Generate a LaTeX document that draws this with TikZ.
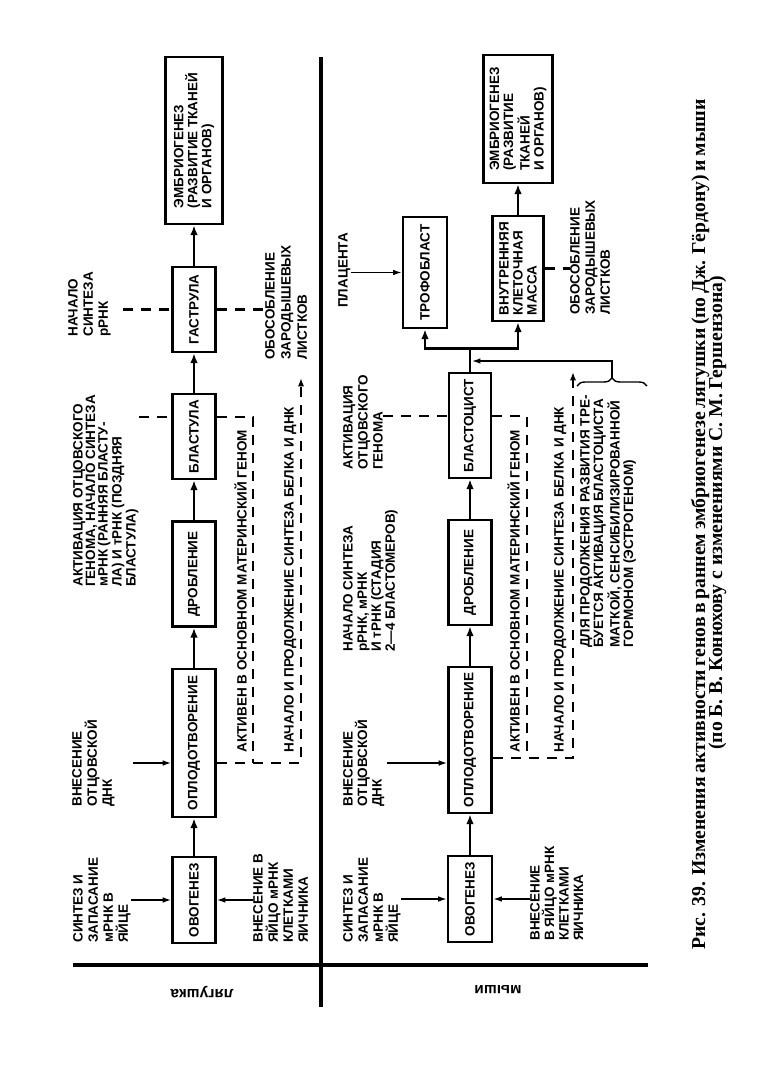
\documentclass[tikz,border=0pt]{standalone}
\usepackage{fontspec}
\setmainfont{Liberation Serif}
\setsansfont{Liberation Sans}
\usetikzlibrary{arrows.meta,decorations.pathreplacing}

\begin{document}
\begin{tikzpicture}[x=0.025cm,y=-0.025cm,>={Latex[length=7pt,width=5.5pt]}]
        \tikzstyle{block} = [rectangle, draw, line width=1.9pt, rotate=90, inner sep=2pt, align=left, font=\sffamily\bfseries\fontsize{9.6}{10}\selectfont]
        \tikzset{note/.style={rotate=90, anchor=north west, inner sep=0pt, align=left, font=\sffamily\bfseries\fontsize{9.6}{#1}\selectfont}, note/.default=10.7pt}
        \tikzstyle{arrow} = [->, line width=2pt]
        \tikzstyle{thinarrow} = [-{Latex[length=6pt,width=4pt]}, line width=1pt]
        \tikzstyle{dashline} = [line width=1.5pt, dash pattern=on 0.25cm off 0.2cm]

        \useasboundingbox (0,0) rectangle (756,1078);

        % Frog row
        \node[block, minimum width=2.15cm, minimum height=1.075cm] (ovo) at (194,900) {ОВОГЕНЕЗ};
        \node[block, minimum width=3.7cm, minimum height=1.075cm] (opl) at (194,743) {ОПЛОДОТВОРЕНИЕ};
        \node[block, minimum width=2.625cm, minimum height=1.075cm] (drob) at (194,574) {ДРОБЛЕНИЕ};
        \node[block, minimum width=2.125cm, minimum height=1.075cm] (blas) at (194,436.5) {БЛАСТУЛА};
        \node[block, minimum width=2.125cm, minimum height=1.075cm] (gast) at (194,309.5) {ГАСТРУЛА};
        \node[block, minimum width=4.175cm, minimum height=1.425cm] (embr) at (194,140.5) {ЭМБРИОГЕНЕЗ\\(РАЗВИТИЕ ТКАНЕЙ\\И ОРГАНОВ)};

        % Frog labels
        \node[note] (ovoL) at (73,943) {СИНТЕЗ И\\ЗАПАСАНИЕ\\мРНК В\\ЯЙЦЕ};
        \node[note] (ovoR) at (253,943) {ВНЕСЕНИЕ В\\ЯЙЦО мРНК\\КЛЕТКАМИ\\ЯИЧНИКА};
        \node[note] (oplL) at (72,807) {ВНЕСЕНИЕ\\ОТЦОВСКОЙ\\ДНК};
        \node[note=8.9pt] (blasL) at (73,587) {АКТИВАЦИЯ ОТЦОВСКОГО\\ГЕНОМА, НАЧАЛО СИНТЕЗА\\мРНК (РАННЯЯ БЛАСТУ-\\ЛА) И тРНК (ПОЗДНЯЯ\\БЛАСТУЛА)};
        \node[note] (gastL) at (68,337) {НАЧАЛО\\СИНТЕЗА\\рРНК};
        \node[note=11.4pt] (gastR) at (265,360) {ОБОСОБЛЕНИЕ\\ЗАРОДЫШЕВЫХ\\ЛИСТКОВ};
        \node[note] (activeF) at (234,753) {АКТИВЕН В ОСНОВНОМ МАТЕРИНСКИЙ ГЕНОМ};
        \node[note] (synthF) at (284,753) {НАЧАЛО И ПРОДОЛЖЕНИЕ СИНТЕЗА БЕЛКА И ДНК};

        % Mouse row
        \node[block, minimum width=2.15cm, minimum height=1.1cm] (ovo2) at (470,899) {ОВОГЕНЕЗ};
        \node[block, minimum width=3.65cm, minimum height=1.075cm] (opl2) at (470,740) {ОПЛОДОТВОРЕНИЕ};
        \node[block, minimum width=2.625cm, minimum height=1.075cm] (drob2) at (470,572.5) {ДРОБЛЕНИЕ};
        \node[block, minimum width=2.625cm, minimum height=1.05cm] (blast) at (470,425.5) {БЛАСТОЦИСТ};

        % Branch nodes
        \node[block, minimum width=2.775cm, minimum height=1.1cm] (troph) at (425,272.5) {ТРОФОБЛАСТ};
        \node[block, minimum width=2.625cm, minimum height=1.275cm] (vkm) at (518,268.5) {ВНУТРЕННЯЯ\\КЛЕТОЧНАЯ\\МАССА};
        \node[block, minimum width=3.2cm, minimum height=1.725cm] (embr2) at (518,119) {ЭМБРИОГЕНЕЗ\\(РАЗВИТИЕ\\ТКАНЕЙ\\И ОРГАНОВ)};

        % Mouse labels
        \node[note] (ovoL2) at (343,943) {СИНТЕЗ И\\ЗАПАСАНИЕ\\мРНК В\\ЯЙЦЕ};
        \node[note=10.3pt] (ovoR2) at (530,941) {ВНЕСЕНИЕ\\В ЯЙЦО мРНК\\КЛЕТКАМИ\\ЯИЧНИКА};
        \node[note=10.3pt] (oplL2) at (343,807) {ВНЕСЕНИЕ\\ОТЦОВСКОЙ\\ДНК};
        \node[note=10pt] (drobL2) at (343,652) {НАЧАЛО СИНТЕЗА\\рРНК, мРНК\\И тРНК (СТАДИЯ\\2—4 БЛАСТОМЕРОВ)};
        \node[note] (blastL2) at (343,470) {АКТИВАЦИЯ\\ОТЦОВСКОГО\\ГЕНОМА};
        \node[note] (placL) at (338,308) {ПЛАЦЕНТА};
        \node[note] (gastR2) at (570,315) {ОБОСОБЛЕНИЕ\\ЗАРОДЫШЕВЫХ\\ЛИСТКОВ};
        \node[note] (activeM) at (507,753) {АКТИВЕН В ОСНОВНОМ МАТЕРИНСКИЙ ГЕНОМ};
        \node[note] (synthM) at (554,753) {НАЧАЛО И ПРОДОЛЖЕНИЕ СИНТЕЗА БЕЛКА И ДНК};
        \node[note=9.6pt] (noteM) at (580,648) {ДЛЯ ПРОДОЛЖЕНИЯ РАЗВИТИЯ ТРЕ-\\БУЕТСЯ АКТИВАЦИЯ БЛАСТОЦИСТА\\МАТКОЙ, СЕНСИБИЛИЗИРОВАННОЙ\\ГОРМОНОМ (ЭСТРОГЕНОМ)};

        % Row names and caption
        \node[rotate=180, font=\sffamily\bfseries\fontsize{11}{12}\selectfont] (frog) at (202,992) {лягушка};
        \node[rotate=180, font=\sffamily\bfseries\fontsize{11}{12}\selectfont] (mouse) at (498,990) {мыши};
        \node[rotate=90, anchor=base west, inner sep=0pt, font=\rmfamily\bfseries\fontsize{14}{12}\selectfont] (capA) at (705,950) {\makebox[21.25cm][s]{Рис. 39. Изменения активности генов в раннем эмбриогенезе лягушки (по Дж. Гёрдону) и мыши}};
        \node[rotate=90, anchor=base, inner sep=0pt, font=\rmfamily\bfseries\fontsize{14}{12}\selectfont] (capB) at (722,513) {(по Б. В. Конюхову с изменениями С. М. Гершензона)};

        % Dividing lines
        \draw[line width=2.4pt] (321,57) -- (321,1007);
        \draw[line width=2.4pt] (73,965) -- (648,965);

        % Bracket corners
        \coordinate (fgen) at (253,417);
        \coordinate (fbase) at (253,763);
        \coordinate (fsyn) at (301,378);
        \coordinate (mgen) at (527,416);
        \coordinate (mbase) at (527,758);
        \coordinate (msyn) at (573,372);
        \coordinate (mdna) at (387,763);
        \coordinate (hook) at (472,361);
        \coordinate (bracetip) at (612,378);

        % Straight arrows
        \draw[arrow] (ovo) -- (opl);
        \draw[arrow] (opl) -- (drob);
        \draw[arrow] (drob) -- (blas);
        \draw[arrow] (blas) -- (gast);
        \draw[arrow] (gast) -- (embr);
        \draw[arrow] (ovo2) -- (opl2);
        \draw[arrow] (opl2) -- (drob2);
        \draw[arrow] (drob2) -- (blast);
        \draw[arrow] (vkm) -- (embr2);

        % Branching arrows
        \draw[line width=2pt] (blast.east) -- ++(0,-23) coordinate(branch);
        \draw[arrow] (branch) -| (troph.west);
        \draw[arrow] (branch) -| (vkm.west);

        % Thin arrows
        \draw[thinarrow] (ovoL.south |- ovo.north) -- (ovo.north);
        \draw[thinarrow] (ovoR.north |- ovo.south) -- (ovo.south);
        \draw[thinarrow, shorten <=0.45cm] (oplL.south |- fbase) -- (opl.north |- fbase);
        \draw[thinarrow] (ovoL2.south |- ovo2.north) -- (ovo2.north);
        \draw[thinarrow] (ovoR2.north |- ovo2.south) -- (ovo2.south);
        \draw[thinarrow] (mdna) -- (opl2.north |- mdna);
        \draw[thinarrow] (placL.south |- troph.north) -- (troph.north);
        \draw[decorate, decoration={brace, amplitude=0.2cm}, line width=1pt] (577,386) -- (647,386);
        \draw[thinarrow] (bracetip) |- (hook);

        % Dashed lines
        \draw[dashline, shorten <=0.3cm] (gastL.south |- gast.north) -- (gast.north);
        \draw[dashline] (gast.south) -- (gast.south -| gastR.north);
        \draw[dashline] (blasL.south |- fgen) -- (blas.north |- fgen);
        \draw[dashline] (blas.south |- fgen) -- (fgen) -- (fbase);
        \draw[dashline, -{Latex[length=6pt,width=4.5pt]}] (opl.south |- fbase) -| (fsyn);
        \draw[dashline] (blastL2.south |- mgen) -- (blast.north |- mgen);
        \draw[dashline] (blast.south |- mgen) -- (mgen) -- (mbase);
        \draw[dashline, -{Latex[length=6pt,width=4.5pt]}] (opl2.south |- mbase) -| (msyn);
        \draw[dashline] (vkm.south) -- (vkm.south -| gastR2.north);
    \end{tikzpicture}
\end{document}
